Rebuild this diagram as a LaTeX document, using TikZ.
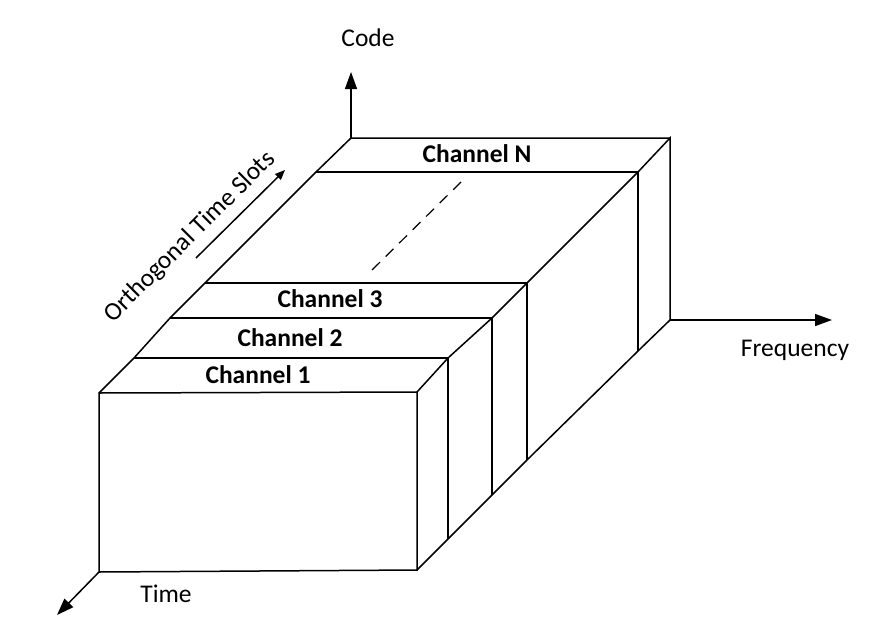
\documentclass[tikz,border=0pt]{standalone}
\usepackage{fontspec}
\setmainfont{Carlito}
\usetikzlibrary{arrows.meta}
\begin{document}
\begin{tikzpicture}[x=1pt,y=-1pt,
  edge/.style={line width=1.5pt, line join=miter},
  axis/.style={line width=1.5pt, -{Triangle[length=17pt,width=12pt]}},
  smallaxis/.style={line width=1.5pt, -{Triangle[length=10pt,width=8pt]}},
  chlabel/.style={font=\fontsize{25.5}{30}\selectfont\bfseries, inner sep=0pt},
  axlabel/.style={font=\fontsize{25.5}{30}\selectfont, inner sep=0pt}]
\useasboundingbox (0,0) rectangle (880,640);
% corners
\coordinate (FTL) at (99,393);
\coordinate (FTR) at (417,392);
\coordinate (FBR) at (417,570);
\coordinate (FBL) at (99,572);
\coordinate (BTL) at (351,138);
\coordinate (BTR) at (670,138);
\coordinate (BBR) at (670,320);
\coordinate (c1L) at (134,358);
\coordinate (c1R) at (448,358);
\coordinate (c1B) at (448,539);
\coordinate (c2L) at (170,318);
\coordinate (c2R) at (492,318);
\coordinate (c2B) at (492,495);
\coordinate (c3L) at (205,283);
\coordinate (c3R) at (527,283);
\coordinate (c3B) at (527,460);
\coordinate (cnL) at (316,172);
\coordinate (cnR) at (638,172);
\coordinate (cnB) at (638,351);
\coordinate (dashA) at (461,182);
\coordinate (dashB) at (370,272);
\coordinate (codeTip) at (351,72);
\coordinate (freqTip) at (832,320);
\coordinate (timeTip) at (57,615);
\coordinate (otsA) at (196,258);
\coordinate (otsB) at (285,170);
% front face
\draw[edge] (FTL) -- (FTR) -- (FBR) -- (FBL) -- cycle;
% left top diagonal
\draw[edge] (FTL) -- (c1L) -- (c2L) -- (c3L) -- (cnL) -- (BTL) -- (BTR);
% right top diagonal
\draw[edge] (FTR) -- (c1R) -- (c2R) -- (c3R) -- (cnR) -- (BTR) -- (BBR);
% bottom diagonal
\draw[edge] (FBR) -- (c1B) -- (c2B) -- (c3B) -- (cnB) -- (BBR);
% channel separators
\draw[edge] (c1L) -- (c1R) -- (c1B);
\draw[edge] (c2L) -- (c2R) -- (c2B);
\draw[edge] (c3L) -- (c3R) -- (c3B);
\draw[edge] (cnL) -- (cnR) -- (cnB);
% dashed
\draw[line width=1.2pt, dash pattern=on 11pt off 8pt] (dashA) -- (dashB);
% axes
\draw[axis] (BTL) -- (codeTip);
\draw[axis] (BBR) -- (freqTip);
\draw[axis] (FBL) -- (timeTip);
\draw[smallaxis] (otsA) -- (otsB);
% labels
\node[chlabel] (ch1) at (258,375) {Channel 1};
\node[chlabel] (ch2) at (290,338) {Channel 2};
\node[chlabel] (ch3) at (330,299) {Channel 3};
\node[chlabel] (chn) at (477,154) {Channel N};
\node[axlabel] (code) at (368,38) {Code};
\node[axlabel] (freq) at (795,350) {Frequency};
\node[axlabel] (time) at (166,594) {Time};
\node[axlabel, rotate=45] (ots) at (190,237) {Orthogonal Time Slots};
\end{tikzpicture}
\end{document}
